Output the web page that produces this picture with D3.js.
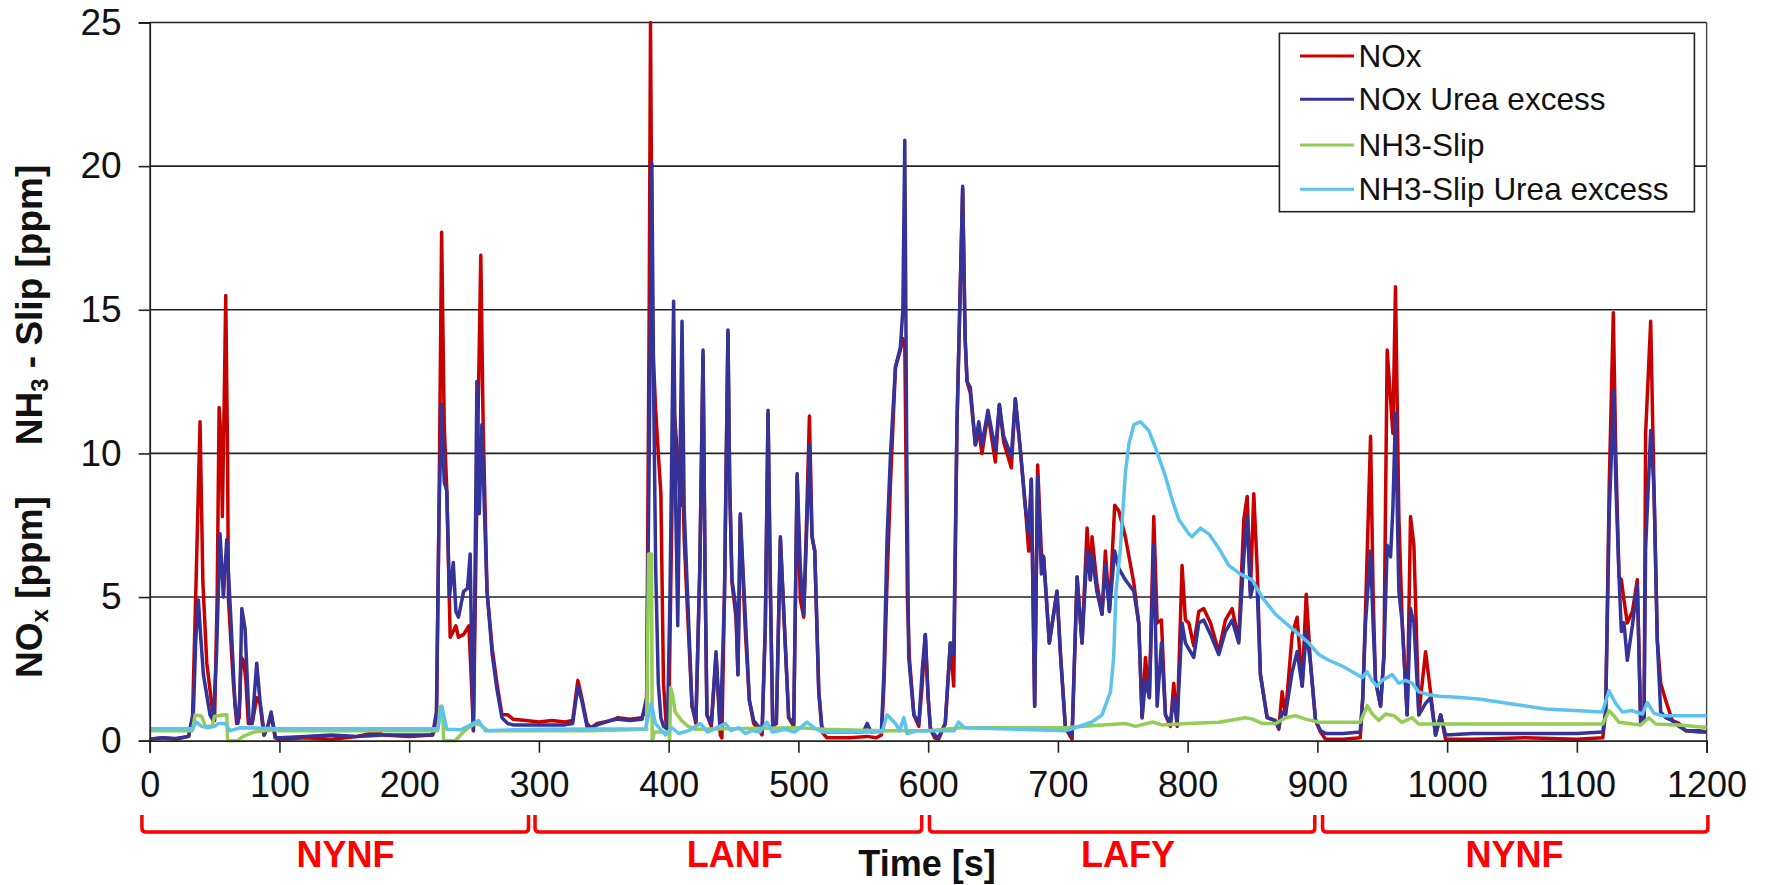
<!DOCTYPE html>
<html>
<head>
<meta charset="utf-8">
<script src="https://cdn.jsdelivr.net/npm/d3@7"></script>
<style>
  html, body { margin: 0; padding: 0; background: #fff; }
  svg { display: block; }
  text { font-family: "Liberation Sans", Arial, sans-serif; }
</style>
</head>
<body>
<svg id="chart" width="1765" height="885"></svg>
<script>
// ---------------- DATA ----------------
const seriesNames = ["NOx", "NOx Urea excess", "NH3-Slip", "NH3-Slip Urea excess"];
const xTicks = [0, 100, 200, 300, 400, 500, 600, 700, 800, 900, 1000, 1100, 1200];
const yTicks = [0, 5, 10, 15, 20, 25];
const phaseLabels = ["NYNF", "LANF", "LAFY", "NYNF"];
const phaseRanges = [[-6, 292], [297, 595], [601, 898], [904, 1201]];
const phaseLabelAt = [151, 451, 754, 1052];

// [time s, ppm]
const nox = [
[0,0.05],[10,0.1],[20,0.05],[30,0.15],[33,0.8],[36,6.0],[38.8,11.1],[41,5.5],[44,2.7],[48,1.2],[50,0.7],[52,5],[53.5,11.6],[55,10.5],[56,7.8],[57.5,12],[58.6,15.5],[60,10],[60.7,4.9],[64.5,2.0],[67,0.6],[69,0.8],[70.5,2.9],[72.2,2.8],[74,2.2],[76,0.6],[79,0.6],[82.5,1.5],[85,1.3],[88,0.2],[91,0.5],[93.6,0.9],[96.7,0.1],
[100,0.05],[120,0.1],[140,0.05],[160,0.15],[175,0.3],[180,0.2],[200,0.15],[218,0.2],[221,0.5],[223,8],[225,17.7],[227,11],[229,8.7],[231.6,3.6],[234,3.8],[236,4.0],[238,3.6],[242,3.7],[246,4.0],[248,2],[249.5,0.35],[251,5],[253,11],[255.2,16.9],[257,11],[260,5.2],[264,3.2],[267.6,2.0],[271.5,0.9],[276,0.9],[280,0.75],[290,0.7],
[300,0.65],[310,0.7],[320,0.65],[326,0.7],[330,2.1],[333,1.5],[337,0.6],[340,0.45],[345,0.6],[355,0.7],[361,0.8],[370,0.75],[379.4,0.8],[383,1.2],[385,15],[386,25],[387.5,14],[389,12.5],[390,11.5],[392,10],[394,8.6],[396,2],[398,0.6],[400,0.4],[401.5,5],[403.8,11.7],[406.4,10.2],[409,8.2],[410.3,10],[412,7],[414.1,4.9],[418,1.2],[421,0.6],[424,6],[426.5,13.4],[428,6],[429.5,0.9],[432.9,0.5],[436.5,3.0],[439.8,0.2],[441,0.1],[443,5],[445.7,14.2],[447,9],[448.8,5.5],[451.9,4.3],[453.4,2.3],[455.2,7.8],[457,6],[459.1,3.8],[462.2,1.4],[465.5,0.6],[472,0.2],[474.5,4],[476.6,11.4],[478.5,5],[480.2,0.5],[483,0.6],[486.1,7.0],[488.7,4.5],[492.5,0.8],[496.4,0.5],[499,9.2],[501.5,4.9],[504.1,4.3],[506.5,8],[508.5,11.3],[510.5,7.1],[512.6,6.6],[515.7,1.7],[518.2,0.3],[522,0.1],[540,0.1],[553,0.15],[560,0.1],[564,0.2],[566,2],[568.3,5.5],[571,9],[574.8,13],[578.6,13.6],[580.5,14],[582,13.8],[584,5],[585.5,2.9],[589,0.9],[592.8,0.5],[595.5,2],[597.8,3.7],
[600,1.5],[601.8,0.4],[605,0.1],[608,0.05],[613.2,0.6],[617.1,3.4],[619.7,1.9],[622.2,11.0],[626.6,19.2],[628.5,14],[630,12.5],[632.5,12.1],[636.4,10.3],[639,10.8],[641.5,10],[646.1,11.4],[651.8,9.7],[654.9,11.7],[658.2,10.4],[664.1,9.5],[667.2,11.9],[671.1,10.1],[675,8.1],[677.5,6.6],[679.5,9.1],[682.1,1.2],[684.4,9.6],[687.3,6.5],[689,6.4],[693.4,3.4],[699.3,5.2],[702,3],[705.8,0.45],[710.9,0.05],[714.8,5.7],[718.6,3.4],[722.5,7.4],[725,5.6],[726.3,7.1],[730,5.5],[734,4.4],[736.6,6.6],[739.7,4.5],[743.8,8.2],[746.9,8.0],[752,7.1],[758.5,5.5],[762.3,4.1],[764.9,0.8],[767.5,2.9],[770.5,1.5],[773.9,7.8],[776.5,4.1],[779.8,4.2],[782.9,0.9],[786.7,0.5],[789.3,2.0],[791.9,0.5],[795.7,6.1],[798.3,4.2],
[800.9,4.1],[804.7,3.3],[808.6,4.5],[812.4,4.6],[817.6,4.1],[824,3.1],[829.1,4.2],[834.3,4.6],[839.4,3.5],[843.3,7.7],[845.9,8.5],[848.4,5.2],[851,8.6],[853.6,6.0],[856.1,2.3],[861.3,0.8],[867.7,0.7],[870.3,0.4],[872.8,1.7],[875.4,0.9],[880.6,3.7],[884.4,4.3],[888.3,1.9],[891.4,5.1],[894.7,2.7],[898.6,0.7],
[902.4,0.3],[906.3,0.05],[920,0.05],[933,0.1],[935,1.5],[937.1,4.5],[941,10.6],[943,5],[944.8,2.1],[948.7,1.2],[951.3,3],[953.8,13.6],[956.4,11.9],[958.2,10.7],[960.2,15.8],[962.8,7.8],[965.4,4.1],[969.2,0.9],[971.8,7.8],[974.4,6.8],[978.2,0.9],[983.4,3.1],[987.2,1.7],[991.1,0.2],[995,0.9],[998.8,0.05],
[1020,0.05],[1060,0.1],[1100,0.05],[1120,0.1],[1122.2,1],[1125,9],[1128.1,14.9],[1130,10],[1132.5,5.7],[1134.3,5.6],[1136.3,4.9],[1138.9,4.1],[1142.8,4.5],[1146.6,5.6],[1149.2,0.6],[1151.8,0.7],[1153,10.7],[1156.9,14.6],[1159.5,8.7],[1162,3.5],[1164.6,2.0],[1168.5,1.4],[1173.6,0.7],[1178.7,0.6],[1183.9,0.35],[1194.2,0.35],[1200,0.3]
];

const noxUrea = [
[0,0.05],[10,0.1],[20,0.08],[30,0.15],[33.7,1.0],[35.5,3.5],[37.5,4.9],[39.5,3.5],[41.4,2.3],[46.5,0.9],[49,0.7],[51.5,3],[54.2,7.2],[56.8,5.0],[59.4,7.0],[62.7,4.1],[65.8,1.2],[68,0.6],[69.5,1.5],[71,4.6],[73.5,3.9],[76.6,0.7],[79,0.6],[82.5,2.7],[85,1.4],[88.4,0.2],[91,0.5],[93.6,1.0],[97,0.1],
[100,0.1],[120,0.15],[140,0.2],[160,0.15],[180,0.2],[200,0.2],[218,0.2],[221,1],[223,8],[225,11.7],[227,9],[229,8.7],[231,5],[234,6.2],[236,4.5],[238,4.3],[242,5.2],[245,5.3],[247,6.5],[248.5,2],[249.5,0.35],[251,7],[252.2,12.5],[254,7.9],[256,11],[258,8],[260,5.2],[264,3.0],[267.6,1.8],[271.5,0.8],[276,0.6],[280,0.55],
[300,0.55],[320,0.55],[326,0.6],[330,1.9],[333,1.4],[337,0.5],[340,0.45],[345,0.55],[355,0.7],[361,0.75],[370,0.7],[379.4,0.75],[383,1.5],[385,10],[387,20.1],[388.5,12],[390,6],[392,2],[394,0.8],[396,0.5],[399,0.4],[401,5],[403.8,15.3],[405.5,8],[407,4],[408.5,9],[410.3,14.6],[412,8],[414.1,5.6],[418,1.2],[421,0.7],[424,6],[426.5,13.6],[428,6],[429.5,0.9],[432.9,0.6],[436.5,3.1],[439.8,0.35],[443,5],[445.7,14.3],[447,9],[448.8,5.6],[451.9,4.6],[453.4,2.3],[455.2,7.9],[457,6.2],[459.1,4.3],[462.2,1.4],[465.5,0.7],[472,0.35],[474.5,4],[476.6,11.5],[478.5,5],[480.2,0.6],[483,0.6],[486.1,7.1],[488.7,4.5],[492.5,0.8],[496.4,0.6],[499,9.3],[501.5,6.0],[504.1,4.4],[506.5,7.5],[508.5,10.3],[510.5,7.1],[512.6,6.6],[515.7,1.7],[518.2,0.45],[522,0.3],[540,0.3],[550,0.3],[553,0.6],[556,0.3],[564,0.35],[566,2.5],[568.3,7.0],[571,10],[574.8,13.0],[578.6,13.7],[580.5,15],[582,20.9],[583.5,10],[585,2.9],[589,0.9],[592.8,0.6],[595.5,2.5],[597.8,3.7],
[600,1.5],[601.7,0.45],[605,0.2],[608,0.1],[613.2,0.6],[617.1,3.4],[619.7,3.0],[622.2,11.0],[626.6,19.3],[628.5,14],[630,12.5],[632.5,12.3],[636.4,10.3],[639,11.1],[641.5,10.3],[646.1,11.5],[651.8,10.1],[654.9,11.7],[658.2,10.6],[664.1,9.9],[667.2,11.9],[671.1,10.1],[675,8.1],[677.5,7.2],[679.5,9.1],[682.1,1.2],[684.4,9.2],[687.3,5.8],[689,6.4],[693.4,3.4],[699.3,5.2],[702,3],[705.8,0.45],[710.9,0.15],[714.8,5.7],[718.6,3.4],[722.5,6.6],[725,5.6],[726.3,6.5],[730,5.2],[734,4.4],[736.6,6.1],[739.7,4.5],[743.8,6.6],[746.9,6.0],[752,5.6],[758.5,5.2],[762.3,4.1],[764.9,0.8],[767.5,2.1],[770.5,1.5],[773.9,6.8],[776.5,1.2],[779.8,3.4],[782.9,0.9],[786.7,0.6],[789.3,1.5],[791.9,0.6],[795.7,4.1],[798.3,3.4],
[800.9,3.2],[804.7,2.9],[808.6,4.1],[812.4,4.2],[817.6,3.7],[824,3.0],[829.1,3.8],[834.3,4.2],[839.4,3.4],[843.3,6.4],[845.9,7.8],[848.4,5.0],[851,5.5],[853.6,5.3],[856.1,2.3],[861.3,0.8],[867.7,0.7],[870.3,0.45],[872.8,1.0],[875.4,0.9],[880.6,2.4],[884.4,3.1],[888.3,1.9],[891.4,3.8],[894.7,2.7],[898.6,0.7],
[902.4,0.35],[906.3,0.25],[920,0.25],[933,0.3],[935,1.5],[937.1,4.1],[941,6.6],[943,4],[944.8,2.1],[948.7,1.2],[951.3,2.9],[953.8,6.8],[956.4,6.4],[958.2,8.1],[960.2,11.4],[962.8,5.2],[965.4,4.1],[969.2,0.9],[971.8,4.6],[974.4,4.1],[978.2,0.9],[983.4,1.3],[987.2,1.5],[991.1,0.2],[995,0.9],[998.8,0.2],
[1020,0.25],[1060,0.25],[1100,0.25],[1120,0.3],[1122.2,1],[1125,8],[1128.5,12.2],[1130,9],[1132.5,5.7],[1134.3,3.8],[1136.3,4.1],[1138.9,2.8],[1142.8,4.0],[1146.6,5.4],[1149.2,0.6],[1151.8,0.7],[1153,6.7],[1156.9,10.8],[1159.5,8.7],[1162,3.5],[1164.6,1.0],[1168.5,0.8],[1173.6,0.7],[1178.7,0.5],[1183.9,0.35],[1194.2,0.3],[1200,0.3]
];

const nh3Slip = [
[0,0.35],[33,0.35],[35,0.9],[40,0.85],[43,0.5],[48,0.5],[50,0.85],[58,0.9],[59.5,0.9],[60,0.0],[68,0.0],[72,0.15],[80,0.3],[95,0.38],[100,0.35],[222,0.35],[224,1.2],[226,0.9],[226.5,0.0],[235.5,0.0],[240.6,0.25],[245.7,0.45],[250.9,0.6],[254.7,0.55],[261,0.35],[300,0.35],[340,0.35],[383,0.4],[384.5,6.5],[386.8,6.5],[387.3,0.0],[389,0.3],[400,0.3],[400.8,0.0],[401.5,1.85],[403,1.6],[405,1.0],[410,0.7],[415,0.5],[420,0.4],[500,0.45],[520,0.4],[565,0.35],[600,0.35],[625,0.45],[706,0.45],[720,0.5],[752,0.6],[760,0.5],[773,0.65],[780,0.55],[800,0.6],[824,0.64],[844.6,0.8],[850,0.75],[857.4,0.6],[868,0.6],[875.4,0.8],[883.1,0.87],[890.8,0.75],[901.1,0.64],[933,0.64],[938.4,1.22],[942.3,0.93],[947.4,0.7],[952.5,0.93],[959,0.87],[965,0.64],[973.1,0.8],[978,0.58],[1000,0.58],[1120,0.58],[1124.8,1.04],[1128,0.9],[1132.5,0.64],[1142.8,0.58],[1149.2,0.55],[1155.6,0.8],[1160.7,0.58],[1178.7,0.55],[1200,0.46]
];

const nh3SlipUrea = [
[0,0.42],[33,0.42],[36,0.65],[40,0.5],[45,0.45],[50,0.5],[53,0.6],[58,0.6],[62,0.35],[70,0.45],[100,0.42],[222,0.42],[225.2,1.2],[229,0.4],[240,0.38],[253.5,0.7],[258.6,0.35],[300,0.4],[382,0.42],[386.6,1.3],[389.7,0.6],[397.4,0.2],[402.5,0.45],[407.7,0.25],[415.4,0.35],[424.4,0.6],[430,0.3],[443.7,0.6],[448,0.35],[454,0.45],[459,0.25],[464.2,0.35],[470,0.3],[475.8,0.65],[480,0.3],[490,0.4],[497,0.3],[506.7,0.65],[512,0.45],[518.2,0.3],[564.5,0.3],[568.3,0.9],[574.8,0.6],[578,0.35],[581.2,0.8],[583.8,0.25],[592,0.35],[603,0.35],[620,0.35],[623.5,0.65],[628,0.45],[705.8,0.35],[713.5,0.45],[726.3,0.65],[734,0.9],[740.5,1.7],[743,2.9],[744.8,5.2],[748.2,6.7],[752,9.3],[754.6,10.3],[758.5,11.0],[763.6,11.1],[770,10.8],[775.2,10.2],[782.9,9.2],[788,8.4],[793.2,7.7],[800.9,7.2],[803.4,7.1],[809.9,7.4],[816.3,7.2],[824,6.7],[831.7,6.1],[840.7,5.8],[849.7,5.6],[857.4,5.0],[867.7,4.4],[875.4,4.1],[885.7,3.7],[893.4,3.4],[901.1,3.0],[908.8,2.8],[919.1,2.6],[926.8,2.4],[934.5,2.2],[938.4,2.4],[942,2.1],[946.1,1.9],[950,2.1],[957.7,2.3],[962.8,2.0],[968,2.1],[973.1,2.0],[978.2,1.7],[986,1.6],[993.7,1.55],[1005,1.52],[1024.5,1.45],[1050.2,1.28],[1075.9,1.1],[1101.6,1.04],[1119.6,1.0],[1124.8,1.74],[1129.9,1.3],[1135.1,1.0],[1142,1.05],[1150.5,0.93],[1154.3,1.33],[1159.5,0.95],[1165.9,0.87],[1200,0.87]
];

const seriesData = [nox, noxUrea, nh3Slip, nh3SlipUrea];
const seriesColors = ["#C80000", "#333399", "#95CC55", "#5CC3EE"];

// ---------------- CHART ----------------
const svg = d3.select("#chart");
const L = 149.7, R = 1706.6, T = 22.5, B = 740.7;
const x = d3.scaleLinear().domain([0, 1200]).range([L, R]);
const y = d3.scaleLinear().domain([0, 25]).range([B, T]);

// gridlines
svg.append("g").selectAll("line").data(yTicks.filter(d => d > 0)).join("line")
  .attr("x1", L).attr("x2", R)
  .attr("y1", d => y(d)).attr("y2", d => y(d))
  .attr("stroke", "#222").attr("stroke-width", 1.6);

// right border
svg.append("line").attr("x1", R).attr("x2", R).attr("y1", T).attr("y2", B)
  .attr("stroke", "#444").attr("stroke-width", 1.4);

// series lines
const line = d3.line().x(d => x(d[0])).y(d => y(d[1])).curve(d3.curveLinear);
svg.append("clipPath").attr("id", "clip").append("rect")
  .attr("x", L).attr("y", T - 2).attr("width", R - L).attr("height", B - T + 4);
const gLines = svg.append("g").attr("clip-path", "url(#clip)");
seriesData.forEach((s, i) => {
  gLines.append("path").datum(s)
    .attr("d", line)
    .attr("fill", "none")
    .attr("stroke", seriesColors[i])
    .attr("stroke-width", 3.5)
    .attr("stroke-linejoin", "round")
    .attr("stroke-linecap", "round");
});

// axes
const yAxis = d3.axisLeft(y).tickValues(yTicks).tickSize(11).tickPadding(17).tickFormat(d3.format("d"));
const gy = svg.append("g").attr("transform", `translate(${L},0)`).call(yAxis);
gy.select(".domain").attr("stroke", "#222").attr("stroke-width", 1.8);
gy.selectAll(".tick line").attr("stroke", "#222").attr("stroke-width", 1.6);
gy.selectAll(".tick text").attr("font-size", 37).attr("fill", "#111")
  .attr("font-family", "Liberation Sans, Arial, sans-serif");

const xAxis = d3.axisBottom(x).tickValues(xTicks).tickSize(12).tickPadding(19).tickFormat(d3.format("d"));
const gx = svg.append("g").attr("transform", `translate(0,${B})`).call(xAxis);
gx.select(".domain").attr("stroke", "#222").attr("stroke-width", 1.8);
gx.selectAll(".tick line").attr("stroke", "#222").attr("stroke-width", 1.6);
gx.selectAll(".tick text").attr("font-size", 36).attr("fill", "#111")
  .attr("font-family", "Liberation Sans, Arial, sans-serif");

// phase brackets
const by0 = 815, by1 = 832;
const gb = svg.append("g");
phaseRanges.forEach((r, i) => {
  const x1 = x(r[0]), x2 = x(r[1]);
  gb.append("path")
    .attr("d", `M${x1},${by0} V${by1 - 4} Q${x1},${by1} ${x1 + 4},${by1} H${x2 - 4} Q${x2},${by1} ${x2},${by1 - 4} V${by0}`)
    .attr("fill", "none").attr("stroke", "#FF0000").attr("stroke-width", 3.5);
  gb.append("text")
    .attr("x", x(phaseLabelAt[i])).attr("y", 867)
    .attr("text-anchor", "middle")
    .attr("font-size", 36).attr("font-weight", "bold").attr("fill", "#FF0000")
    .text(phaseLabels[i]);
});

// x axis title
svg.append("text").attr("x", 927).attr("y", 876).attr("text-anchor", "middle")
  .attr("font-size", 36).attr("font-weight", "bold").attr("fill", "#111")
  .text("Time [s]");

// y axis titles
const t1 = svg.append("text").attr("transform", "translate(42,305) rotate(-90)")
  .attr("text-anchor", "middle").attr("font-size", 37).attr("font-weight", "bold").attr("fill", "#111");
t1.append("tspan").text("NH");
t1.append("tspan").attr("font-size", 24).attr("dy", 6).text("3");
t1.append("tspan").attr("dy", -6).text(" - Slip  [ppm]");

const t2 = svg.append("text").attr("transform", "translate(42,587) rotate(-90)")
  .attr("text-anchor", "middle").attr("font-size", 37).attr("font-weight", "bold").attr("fill", "#111");
t2.append("tspan").text("NO");
t2.append("tspan").attr("font-size", 24).attr("dy", 6).text("x");
t2.append("tspan").attr("dy", -6).text(" [ppm]");

// legend
const lg = svg.append("g");
lg.append("rect").attr("x", 1279.4).attr("y", 33.3).attr("width", 415).attr("height", 178.4)
  .attr("fill", "#fff").attr("stroke", "#222").attr("stroke-width", 1.6);
const rowY = [56, 99.3, 145, 189.3];
seriesNames.forEach((n, i) => {
  lg.append("line").attr("x1", 1300).attr("x2", 1354).attr("y1", rowY[i]).attr("y2", rowY[i])
    .attr("stroke", seriesColors[i]).attr("stroke-width", 3);
  lg.append("text").attr("x", 1358.6).attr("y", rowY[i]).attr("dy", "0.35em")
    .attr("font-size", 31.5).attr("fill", "#111").text(n);
});
</script>
</body>
</html>
